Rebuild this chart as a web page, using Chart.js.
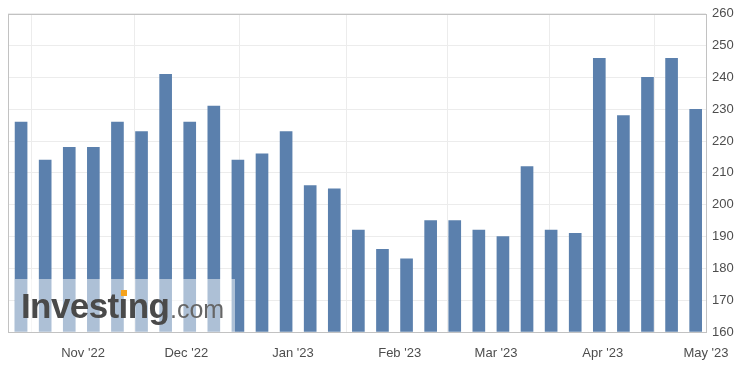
<!DOCTYPE html>
<html>
<head>
<meta charset="utf-8">
<script src="https://cdn.jsdelivr.net/npm/chart.js@4/dist/chart.umd.min.js"></script>
<style>
  html, body { margin: 0; padding: 0; background: #fff; }
  #wrap { position: relative; width: 752px; height: 380px; }
  #mark { position: absolute; left: 15px; top: 279px; width: 220px; height: 53px; background: rgba(255,255,255,0.5); font-family: "Liberation Sans", Arial, sans-serif; }
  #mark .main { position: absolute; left: 6px; top: 9px; font-size: 35px; line-height: 35px; font-weight: bold; color: #4a4a4a; letter-spacing: -0.6px; }
  #mark .dom { position: absolute; left: 155px; top: 18px; font-size: 25px; line-height: 25px; color: #666; }
  #mark .dot { position: absolute; left: 106px; top: 11px; width: 6px; height: 6px; background: #f5a31e; }
</style>
</head>
<body>
<div id="wrap">
  <canvas id="chart" width="752" height="380"></canvas>
  <div id="mark"><span class="main">Investing</span><span class="dom">.com</span><span class="dot"></span></div>
</div>
<script>
// weekly readings (bar dates) and values
const weekDates = ['2022-10-14','2022-10-21','2022-10-28','2022-11-04','2022-11-11','2022-11-18','2022-11-25',
  '2022-12-02','2022-12-09','2022-12-16','2022-12-23','2022-12-30','2023-01-06','2023-01-13','2023-01-20',
  '2023-01-27','2023-02-03','2023-02-10','2023-02-17','2023-02-24','2023-03-03','2023-03-10','2023-03-17',
  '2023-03-24','2023-03-31','2023-04-07','2023-04-14','2023-04-21','2023-04-28'];
const values = [226, 214, 218, 218, 226, 223, 241, 226, 231, 214, 216, 223, 206, 205, 192,
  186, 183, 195, 195, 192, 190, 212, 192, 191, 246, 228, 240, 246, 230];

const monthDates = ['2022-11-01','2022-12-01','2023-01-01','2023-02-01','2023-03-01','2023-04-01','2023-05-01'];
const monthLabels = ["Nov '22", "Dec '22", "Jan '23", "Feb '23", "Mar '23", "Apr '23", "May '23"];

const yTicks = { min: 160, max: 260, step: 10 };

// days since Nov 1 2022, so the x axis can be a plain linear scale
const origin = Date.parse('2022-11-01');
const toDay = s => (Date.parse(s) - origin) / 86400000;
const monthDays = monthDates.map(toDay);
const points = weekDates.map((d, i) => ({ x: toDay(d), y: values[i] }));

const axisFont = { family: '"Liberation Sans", Arial, sans-serif', size: 13 };
const axisColor = '#4d4d4d';

const frame = {
  id: 'frame',
  beforeDatasetsDraw(chart) {
    const a = chart.chartArea, c = chart.ctx;
    c.save();
    c.strokeStyle = '#c2c2c2';
    c.lineWidth = 1;
    c.strokeRect(Math.round(a.left) + 0.5, Math.round(a.top) + 0.5, Math.round(a.right - a.left), Math.round(a.bottom - a.top));
    c.restore();
  }
};

new Chart(document.getElementById('chart'), {
  type: 'bar',
  data: {
    datasets: [{
      data: points,
      backgroundColor: '#5b80ad',
      borderWidth: 0,
      barThickness: 12,
      base: yTicks.min
    }]
  },
  options: {
    responsive: false,
    animation: false,
    layout: { padding: { left: 8, top: 12, right: 0, bottom: 0 } },
    plugins: { legend: { display: false }, tooltip: { enabled: false } },
    scales: {
      x: {
        type: 'linear',
        min: -21.8,
        max: monthDays[monthDays.length - 1],
        offset: false,
        grid: { color: '#ececec', drawTicks: false },
        border: { display: false },
        afterBuildTicks: s => { s.ticks = monthDays.map(v => ({ value: v })); },
        afterFit: s => { s.height = 48; },
        ticks: {
          autoSkip: false,
          maxRotation: 0,
          padding: 14,
          font: axisFont,
          color: axisColor,
          callback: v => monthLabels[monthDays.indexOf(v)]
        }
      },
      y: {
        position: 'right',
        min: yTicks.min,
        max: yTicks.max,
        grid: { color: '#ececec', drawTicks: false },
        border: { display: false },
        afterFit: s => { s.width = 46; },
        ticks: { stepSize: yTicks.step, padding: 6, font: axisFont, color: axisColor }
      }
    }
  },
  plugins: [frame]
});
</script>
</body>
</html>
